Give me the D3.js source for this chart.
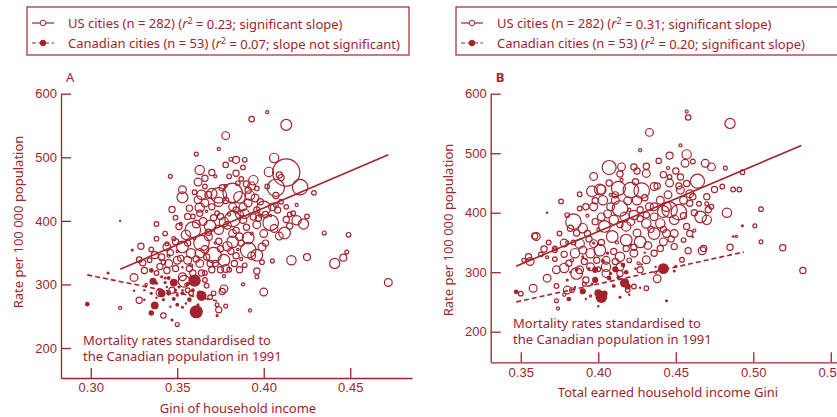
<!DOCTYPE html>
<html><head><meta charset="utf-8">
<script src="https://cdn.jsdelivr.net/npm/d3@7"></script>
<style>
body{margin:0;background:#fff}
svg{display:block;font-family:"Noto Sans",sans-serif;overflow:hidden}
</style></head><body>
<svg id="chart" width="837" height="417"></svg>
<script>
// [gini, mortality rate per 100 000, population (thousands)]
const usA = [
[0.402,571,37],[0.393,560,113],[0.413,551,454],[0.378,534,231],[0.374,513,37],[0.361,505,58],[0.346,470,58],
[0.384,496,188],[0.381,497,58],[0.389,496,83],[0.378,488,113],[0.388,484,83],[0.363,480,333],[0.370,476,148],
[0.384,475,148],[0.387,466,83],[0.362,461,231],[0.406,499,333],[0.403,477,333],[0.409,472,148],[0.410,468,148],
[0.413,476,2836],[0.407,452,1120],[0.421,453,926],[0.429,444,83],[0.407,425,83],[0.415,410,83],[0.408,417,148],
[0.419,401,333],[0.423,395,391],[0.425,407,83],[0.435,381,58],[0.449,378,83],[0.448,351,58],[0.446,342,188],
[0.441,333,391],[0.472,303,231],[0.416,338,333],[0.425,343,188],[0.405,337,58],[0.399,335,83],[0.396,321,148],
[0.396,312,58],[0.400,288,231],[0.392,259,37],[0.378,266,58],[0.374,260,148],[0.373,268,58],[0.377,293,231],
[0.376,289,148],[0.369,280,83],[0.367,298,83],[0.366,307,83],[0.350,237,58],[0.342,251,113],[0.328,275,148],
[0.317,263,37],[0.325,311,231],[0.329,360,148],[0.328,339,113],[0.330,334,148],[0.337,346,188],[0.338,395,83],
[0.347,418,148],[0.353,437,454],[0.353,449,231],[0.362,433,231],[0.363,421,333],[0.364,441,333],[0.368,441,188],
[0.370,443,391],[0.374,440,926],[0.382,444,1447],[0.386,437,521],[0.391,428,231],[0.393,455,231],[0.394,464,333],
[0.395,436,231],[0.400,420,750],[0.396,417,148],[0.389,411,333],[0.382,403,926],[0.369,392,521],[0.359,386,926],
[0.355,378,333],[0.353,359,521],[0.358,349,333],[0.364,365,926],[0.368,375,231],[0.371,346,926],[0.377,338,521],
[0.375,356,148],[0.382,367,521],[0.386,375,231],[0.391,354,926],[0.396,346,521],[0.399,359,231],[0.391,373,521],
[0.404,397,926],[0.412,381,521],[0.409,376,231],[0.396,394,231],[0.379,393,231],[0.374,386,333],[0.365,399,231],
[0.359,407,83],[0.356,407,148],[0.351,391,148],[0.349,367,148],[0.344,359,231],[0.341,343,148],[0.345,333,231],
[0.349,325,148],[0.353,312,231],[0.354,305,521],[0.344,322,148],[0.338,318,83],[0.359,318,148],[0.363,333,231],
[0.367,343,148],[0.370,323,148],[0.364,318,148],[0.369,333,148],[0.383,333,148],[0.386,323,148],[0.381,352,148],
[0.375,323,148],[0.380,323,83],[0.384,417,148],[0.388,422,231],[0.405,422,231],[0.382,422,231],[0.374,430,333],
[0.370,422,148],[0.363,412,148],[0.375,407,148],[0.356,338,231],[0.363,349,333],[0.338,372,83],[0.344,364,58],
[0.348,372,58],[0.390,390,148],[0.400,380,231],[0.394,406,148],[0.388,402,231],[0.373,412,83],[0.402,454,83],
[0.410,430,83],[0.413,422,83],[0.366,467,148],[0.385,459,83],[0.391,448,148],[0.366,454,83],[0.396,451,83],
[0.413,402,148],[0.417,412,83],[0.382,380,231],[0.352,341,148],[0.340,328,148],[0.334,338,83],[0.331,322,148],
[0.347,291,148],[0.356,291,83],[0.358,286,83],[0.371,286,83],[0.363,286,83],[0.340,287,231],
[0.372,365,21],[0.360,372,21],[0.385,355,21],[0.393,380,37],[0.380,410,37],[0.367,415,21],[0.350,352,21],
[0.345,345,37],[0.358,330,37],[0.377,313,37],[0.388,300,37],[0.332,300,21],[0.355,300,21],[0.398,408,37],
[0.404,408,21],[0.419,425,37],[0.378,455,37],[0.372,470,37],[0.352,395,37],[0.387,340,37],
[0.357,420,148],[0.366,428,231],[0.378,432,148],[0.392,440,333],[0.398,430,148],[0.386,410,231],[0.377,398,333],
[0.371,405,148],[0.361,395,231],[0.356,365,148],[0.366,355,231],[0.374,368,148],[0.379,360,333],[0.387,365,148],
[0.393,345,231],[0.384,345,148],[0.378,325,231],[0.372,333,148],[0.361,340,148],[0.350,338,231],[0.346,350,148],
[0.342,335,83],[0.357,325,148],[0.366,318,83],[0.389,330,83],[0.401,365,148],[0.406,388,231],[0.415,392,148],
[0.397,404,148],[0.390,458,148],[0.380,470,83],[0.376,452,148],[0.360,445,83],[0.349,405,83],[0.343,380,83],
[0.335,355,83],[0.401,410,148],[0.407,440,148],[0.384,385,148],[0.368,382,148]
];
const caA = [
[0.298,269,83],[0.317,400,21],[0.324,354,37],[0.310,318,37],[0.335,322,83],[0.336,305,188],[0.341,312,37],
[0.345,310,58],[0.343,303,37],[0.348,303,231],[0.341,286,231],[0.345,286,83],[0.348,277,58],[0.350,283,37],
[0.356,301,58],[0.360,306,593],[0.364,282,391],[0.361,257,669],[0.337,267,231],[0.335,255,113],[0.347,244,37],
[0.353,264,37],[0.357,276,83],[0.359,291,58],[0.353,286,58],[0.335,286,37],[0.331,276,21],[0.325,290,21],
[0.331,291,21],[0.373,251,37],[0.338,279,21],[0.349,291,37],[0.338,302,37],[0.346,265,21],[0.342,276,37],
[0.350,268,58],[0.340,339,21],[0.343,310,37],[0.353,291,21],[0.353,327,21],[0.344,296,21],[0.351,296,37],
[0.339,292,21],[0.355,270,21],[0.362,268,37]
];
const usB = [
[0.457,570,37],[0.458,560,113],[0.485,550,391],[0.433,535,231],[0.427,505,37],[0.453,513,37],[0.457,498,333],
[0.446,496,188],[0.439,487,113],[0.431,478,148],[0.415,477,231],[0.407,476,750],[0.423,477,148],[0.431,466,231],
[0.456,483,231],[0.461,486,83],[0.469,483,231],[0.473,477,231],[0.464,453,750],[0.442,464,148],[0.446,450,231],
[0.453,460,148],[0.446,460,83],[0.482,475,58],[0.493,468,83],[0.480,444,83],[0.487,439,83],[0.491,439,83],
[0.475,439,148],[0.421,438,926],[0.428,437,926],[0.436,444,231],[0.396,436,454],[0.401,439,454],[0.402,439,333],
[0.397,461,231],[0.413,441,750],[0.376,419,83],[0.359,361,148],[0.365,339,148],[0.372,337,83],[0.372,322,83],
[0.378,349,231],[0.378,307,333],[0.384,385,926],[0.390,374,333],[0.380,396,83],[0.388,407,83],[0.372,340,83],
[0.388,431,83],[0.408,410,231],[0.411,421,231],[0.414,407,926],[0.417,393,333],[0.423,396,333],[0.427,405,148],
[0.433,410,231],[0.440,421,231],[0.442,402,521],[0.446,405,926],[0.452,401,926],[0.455,421,231],[0.459,416,148],
[0.461,427,148],[0.466,393,521],[0.470,388,333],[0.471,405,148],[0.473,410,83],[0.483,400,333],[0.505,406,83],
[0.501,378,58],[0.505,351,58],[0.519,341,148],[0.532,303,148],[0.485,342,148],[0.467,336,231],[0.468,340,148],
[0.458,336,148],[0.454,321,83],[0.449,343,148],[0.442,351,231],[0.438,289,231],[0.444,365,231],[0.436,365,521],
[0.427,351,521],[0.418,354,521],[0.409,360,521],[0.401,337,521],[0.397,348,231],[0.395,332,333],[0.390,337,231],
[0.405,320,231],[0.414,326,333],[0.423,332,231],[0.431,321,231],[0.436,332,148],[0.385,332,333],[0.386,298,521],
[0.388,304,231],[0.392,287,148],[0.383,270,83],[0.380,270,231],[0.373,304,231],[0.367,290,231],[0.373,277,83],
[0.373,252,58],[0.374,239,37],[0.358,273,231],[0.356,318,231],[0.355,326,148],[0.350,264,83],[0.360,360,231],
[0.405,298,231],[0.414,298,148],[0.423,276,83],[0.419,270,83],[0.431,273,83],[0.402,393,231],[0.404,377,521],
[0.410,388,333],[0.418,377,333],[0.425,366,231],[0.431,382,333],[0.436,393,231],[0.440,382,333],[0.449,388,333],
[0.457,377,148],[0.449,365,231],[0.455,354,83],[0.459,365,148],[0.399,320,148],[0.395,309,231],[0.405,309,333],
[0.414,309,231],[0.427,304,148],[0.423,342,148],[0.397,410,231],[0.403,421,333],[0.425,421,333],[0.436,410,231],
[0.444,410,333],[0.431,396,148],[0.453,438,231],[0.457,449,148],[0.459,432,231],[0.470,427,148],[0.382,374,148],
[0.393,365,148],[0.386,366,148],[0.388,348,333],
[0.408,430,37],[0.420,405,37],[0.393,395,37],[0.412,350,37],[0.426,315,37],[0.437,300,21],[0.398,286,37],
[0.383,320,37],[0.395,260,21],[0.378,262,37],[0.415,455,37],[0.445,475,37],[0.470,415,58],[0.462,370,37],
[0.489,360,21],[0.400,372,37],[0.380,350,37],[0.367,325,37],[0.352,320,58],[0.391,280,58],
[0.411,430,148],[0.419,420,231],[0.430,425,148],[0.445,430,231],[0.452,445,148],[0.438,445,148],[0.424,452,148],
[0.407,450,148],[0.398,420,148],[0.392,410,148],[0.406,398,231],[0.414,380,148],[0.421,385,231],[0.427,390,148],
[0.434,372,148],[0.442,372,148],[0.447,356,148],[0.440,340,148],[0.432,345,231],[0.418,340,148],[0.410,335,148],
[0.402,350,148],[0.394,356,148],[0.384,350,83],[0.378,330,148],[0.381,315,148],[0.391,318,148],[0.400,305,83],
[0.411,318,148],[0.420,320,83],[0.375,365,83],[0.368,350,83],[0.363,330,83],[0.455,395,148],[0.462,400,148],
[0.465,415,83],[0.450,470,148],[0.425,470,148],[0.414,465,148],[0.398,385,148]
];
const caB = [
[0.347,267,83],[0.367,400,21],[0.381,255,83],[0.390,268,148],[0.386,304,58],[0.398,304,148],[0.398,287,148],
[0.403,319,58],[0.402,258,521],[0.400,265,231],[0.404,264,148],[0.411,305,148],[0.416,312,83],[0.418,300,83],
[0.417,282,333],[0.419,276,148],[0.407,290,83],[0.410,277,58],[0.442,306,454],[0.449,302,37],[0.450,310,37],
[0.444,252,37],[0.493,378,37],[0.400,243,21],[0.392,322,21],[0.394,306,37],[0.424,306,21],[0.430,333,21],
[0.427,274,21],[0.414,258,37],[0.397,349,37],[0.390,326,37],[0.406,332,37],[0.421,346,37],[0.380,287,37],
[0.461,359,21],[0.487,360,21],[0.396,280,37],[0.408,298,37],[0.413,291,58],[0.385,275,21],[0.392,255,21],
[0.420,262,21],[0.437,309,21],[0.428,313,21],[0.382,300,21]
];
// regression lines, [gini, rate] endpoints
const fitUsA = [[0.317,324],[0.472,504]];
const fitCaA = [[0.298,315],[0.373,274]];
const fitUsB = [[0.347,310],[0.531,513]];
const fitCaB = [[0.347,250],[0.494,334]];

const xTicksA = [0.30, 0.35, 0.40, 0.45];
const xTicksB = [0.35, 0.40, 0.45, 0.50, 0.55];
const yTicks = [200, 300, 400, 500, 600];

const legendA = [["US cities (n = 282) (", "0.23; significant slope)"],
                 ["Canadian cities (n = 53) (", "0.07; slope not significant)"]];
const legendB = [["US cities (n = 282) (", "0.31; significant slope)"],
                 ["Canadian cities (n = 53) (", "0.20; significant slope)"]];

const red = "#a3232d";
const svg = d3.select("#chart");
const rScale = d3.scaleSqrt().domain([0, 3000]).range([0, 14]);

function legend(lines, x0, y0, w) {
  const g = svg.append("g");
  g.append("rect").attr("x", x0).attr("y", y0).attr("width", w).attr("height", 48)
    .attr("fill", "none").attr("stroke", red).attr("stroke-width", 1.2);
  lines.forEach((l, i) => {
    const cy = y0 + 16 + i * 20;
    g.append("line").attr("x1", x0 + 5).attr("x2", x0 + 27).attr("y1", cy).attr("y2", cy)
      .attr("stroke", red).attr("stroke-width", 1.2).attr("stroke-dasharray", i ? "4,2.5" : null);
    g.append("circle").attr("cx", x0 + 16).attr("cy", cy).attr("r", 2.8)
      .attr("fill", i ? red : "#fff").attr("stroke", red).attr("stroke-width", 1);
    const t = g.append("text").attr("x", x0 + 41).attr("y", cy).attr("dy", "0.35em")
      .attr("fill", red).style("font-size", "13px");
    t.append("tspan").text(l[0]);
    t.append("tspan").style("font-style", "italic").text("r");
    t.append("tspan").attr("dy", "-0.45em").style("font-size", "9px").text("2");
    t.append("tspan").attr("dy", "0.45em").text(" = " + l[1]);
  });
}

function panel(p) {
  const x = d3.scaleLinear().domain(p.xDomain).range(p.xRange);
  const y = d3.scaleLinear().domain(p.yDomain).range(p.yRange);
  const g = svg.append("g");

  const xa = g.append("g").attr("transform", `translate(0,${p.yRange[0]})`)
    .call(d3.axisBottom(x).tickValues(p.xTicks).tickFormat(d3.format(".2f"))
      .tickSizeInner(-10).tickSizeOuter(0).tickPadding(5));
  const ya = g.append("g").attr("transform", `translate(${p.xRange[0]},0)`)
    .call(d3.axisLeft(y).tickValues(yTicks).tickSizeInner(-10).tickSizeOuter(0).tickPadding(4));
  [xa, ya].forEach(a => {
    a.select(".domain").attr("stroke", red).attr("stroke-width", 1.3);
    a.selectAll(".tick line").attr("stroke", red).attr("stroke-width", 1.3);
    a.selectAll(".tick text").attr("fill", red).style("font-size", "13px");
  });

  g.append("g").selectAll("circle").data(p.us).join("circle")
    .attr("cx", d => x(d[0])).attr("cy", d => y(d[1])).attr("r", d => rScale(d[2]))
    .attr("fill", "none").attr("stroke", red).attr("stroke-width", 1.2);
  g.append("g").selectAll("circle").data(p.ca).join("circle")
    .attr("cx", d => x(d[0])).attr("cy", d => y(d[1])).attr("r", d => Math.max(1.2, rScale(d[2])))
    .attr("fill", red);

  const line = d3.line().x(d => x(d[0])).y(d => y(d[1]));
  g.append("path").attr("d", line(p.fitUs)).attr("fill", "none").attr("stroke", red).attr("stroke-width", 1.6);
  g.append("path").attr("d", line(p.fitCa)).attr("fill", "none").attr("stroke", red)
    .attr("stroke-width", 1.6).attr("stroke-dasharray", "5,3");

  g.append("text").attr("x", p.xRange[0] + 5).attr("y", p.yRange[1] - 16).attr("dy", "0.35em")
    .attr("fill", red).style("font-size", "13px").style("font-weight", p.labelWeight).text(p.label);
  g.append("text").attr("transform", `translate(${p.yTitle[0]},${p.yTitle[1]}) rotate(-90)`)
    .attr("text-anchor", "middle").attr("dy", "0.35em").attr("fill", red).style("font-size", "13px")
    .text("Rate per 100 000 population");
  g.append("text").attr("x", p.xTitle[0]).attr("y", p.xTitle[1]).attr("text-anchor", "middle")
    .attr("dy", "0.35em").attr("fill", red).style("font-size", "13px").text(p.xLabel);
  const note = g.append("text").attr("fill", red).style("font-size", "13px");
  ["Mortality rates standardised to", "the Canadian population in 1991"].forEach((s, i) => {
    note.append("tspan").attr("x", p.note[0]).attr("y", p.note[1] + i * 16).attr("dy", "0.35em").text(s);
  });
}

panel({
  us: usA, ca: caA, fitUs: fitUsA, fitCa: fitCaA, xTicks: xTicksA,
  xDomain: [0.2828, 0.4857], xRange: [61, 412], yDomain: [152.8, 600], yRange: [378, 93.7],
  label: "A", labelWeight: "normal", xLabel: "Gini of household income",
  yTitle: [18, 222], xTitle: [238, 408], note: [83, 340]
});
panel({
  us: usB, ca: caB, fitUs: fitUsB, fitCa: fitCaB, xTicks: xTicksB,
  xDomain: [0.3306, 0.5624], xRange: [490.7, 850], yDomain: [148.6, 600], yRange: [362.3, 93.7],
  label: "B", labelWeight: "bold", xLabel: "Total earned household income Gini",
  yTitle: [448, 230], xTitle: [668, 392], note: [513, 323]
});
legend(legendA, 27, 7, 382);
legend(legendB, 456, 7, 400);
</script>
</body></html>
